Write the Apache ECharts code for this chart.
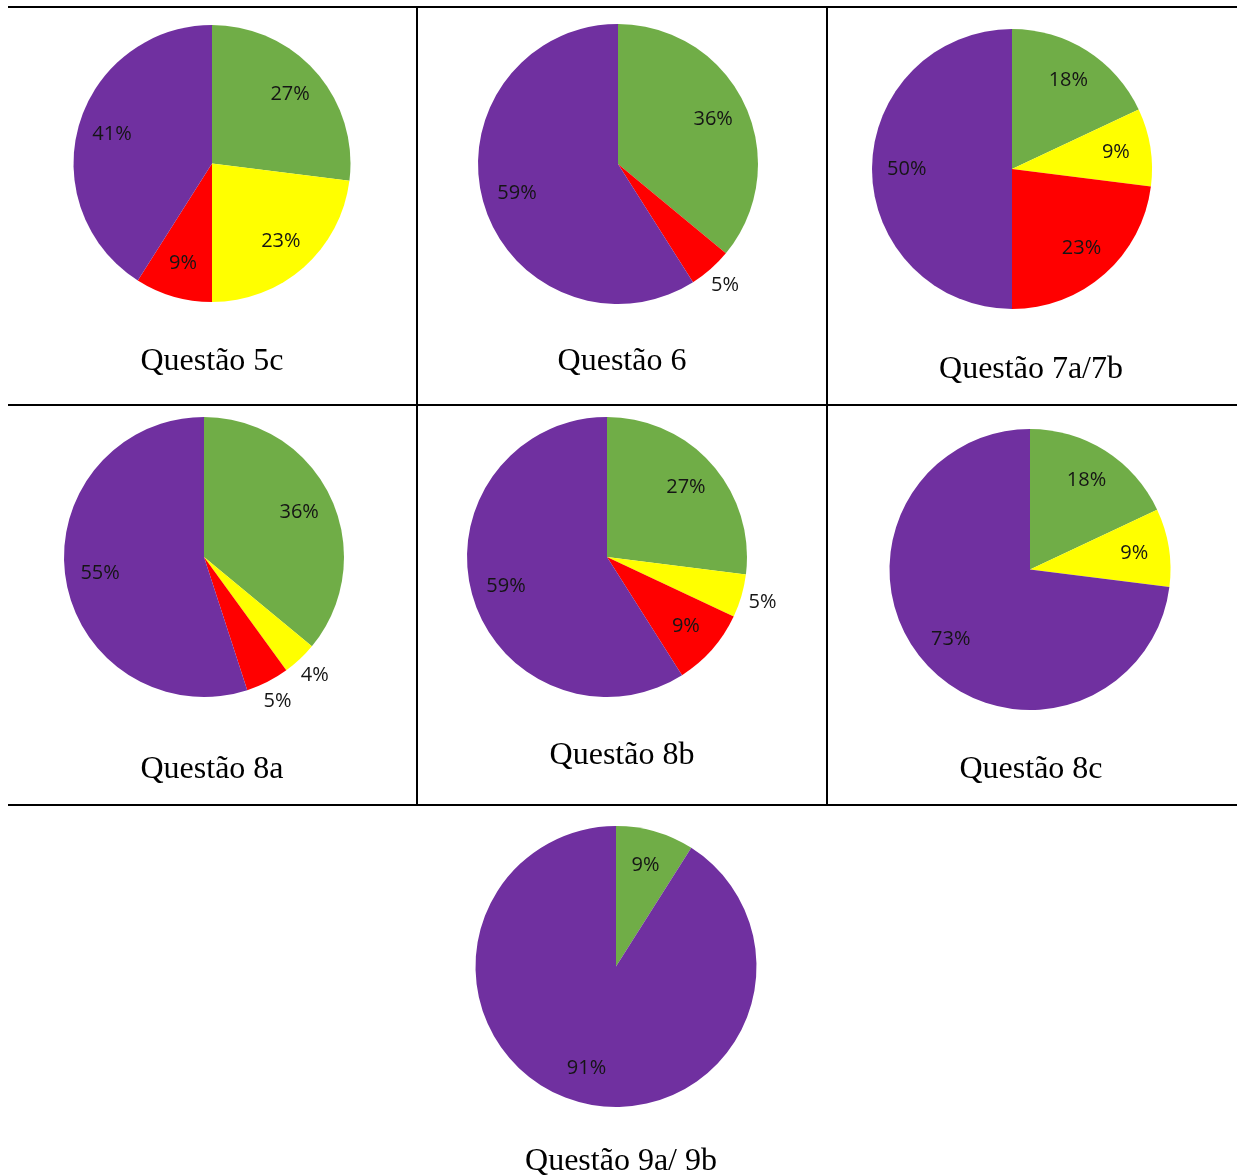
<!DOCTYPE html>
<html>
<head>
<meta charset="utf-8">
<script src="https://cdn.jsdelivr.net/npm/echarts@6/dist/echarts.min.js"></script>
<style>
  html, body { margin: 0; padding: 0; background: #ffffff; }
  #chart { width: 1237px; height: 1176px; }
</style>
</head>
<body>
<div id="chart"></div>
<script>
// Answer categories, in clockwise order from twelve o'clock
const categories = ['Verde', 'Amarelo', 'Vermelho', 'Roxo'];
const colors = ['#70AD47', '#FFFF00', '#FF0000', '#7030A0'];

// Percentages per question (same order as categories; 0 = no answers)
const q5c = [27, 23, 9, 41];
const q6  = [36, 0, 5, 59];
const q7  = [18, 9, 23, 50];
const q8a = [36, 4, 5, 55];
const q8b = [27, 5, 9, 59];
const q8c = [18, 9, 0, 73];
const q9  = [9, 0, 0, 91];

const titles = ['Questão 5c', 'Questão 6', 'Questão 7a/7b', 'Questão 8a', 'Questão 8b', 'Questão 8c', 'Questão 9a/ 9b'];

// Categories whose percentage label sits outside the slice
const outside5c = [];
const outside6  = [2];
const outside7  = [];
const outside8a = [1, 2];
const outside8b = [1];
const outside8c = [];
const outside9  = [];

// Placement of each pie and its caption on the page
const layout = [
  { values: q5c, outside: outside5c, cx: 212,  cy: 163.5, r: 138.5, tx: 212,  ty: 362 },
  { values: q6,  outside: outside6,  cx: 618,  cy: 164,   r: 140,   tx: 622,  ty: 362 },
  { values: q7,  outside: outside7,  cx: 1012, cy: 169,   r: 140,   tx: 1031, ty: 370 },
  { values: q8a, outside: outside8a, cx: 204,  cy: 557,   r: 140,   tx: 212,  ty: 770 },
  { values: q8b, outside: outside8b, cx: 607,  cy: 557,   r: 140,   tx: 622,  ty: 756 },
  { values: q8c, outside: outside8c, cx: 1030, cy: 569.5, r: 140.5, tx: 1031, ty: 770 },
  { values: q9,  outside: outside9,  cx: 616,  cy: 966.5, r: 140.5, tx: 621,  ty: 1162 }
];

const labelStyle = {
  color: '#151515',
  fontFamily: 'Open Sans',
  fontSize: 20,
  formatter: '{c}%'
};

function sliceData(values, labelFilter) {
  const out = [];
  values.forEach((v, i) => {
    if (v > 0) {
      out.push({
        name: categories[i],
        value: v,
        itemStyle: { color: colors[i] },
        label: { show: labelFilter ? labelFilter(i) : false }
      });
    }
  });
  return out;
}

function labelRing(c, radius, filter) {
  return {
    type: 'pie',
    center: [c.cx, c.cy],
    radius: radius,
    startAngle: 90,
    clockwise: true,
    silent: true,
    animation: false,
    avoidLabelOverlap: false,
    label: Object.assign({ position: 'inside' }, labelStyle),
    labelLine: { show: false },
    data: sliceData(c.values, filter)
      .map(d => Object.assign(d, { itemStyle: { color: 'rgba(0,0,0,0)' } }))
  };
}

const series = [];
layout.forEach((c) => {
  // visible slices
  series.push({
    type: 'pie',
    center: [c.cx, c.cy],
    radius: c.r,
    startAngle: 90,
    clockwise: true,
    silent: true,
    animation: false,
    avoidLabelOverlap: false,
    label: { show: false },
    labelLine: { show: false },
    itemStyle: { borderWidth: 0 },
    data: sliceData(c.values, null)
  });
  // labels inside the slices (about three quarters of the radius out)
  series.push(labelRing(c, c.r * 1.46, (i) => c.outside.indexOf(i) < 0));
  // labels just outside the rim for thin slices
  if (c.outside.length) {
    series.push(labelRing(c, c.r * 2.27, (i) => c.outside.indexOf(i) >= 0));
  }
});

// Table rules and captions
const graphics = [];
const rule = { stroke: '#000', lineWidth: 2 };
[7, 405, 805].forEach((y) => {
  graphics.push({ type: 'line', shape: { x1: 8, y1: y, x2: 1237, y2: y }, style: rule, silent: true });
});
[417, 827].forEach((x) => {
  graphics.push({ type: 'line', shape: { x1: x, y1: 7, x2: x, y2: 805 }, style: rule, silent: true });
});
layout.forEach((c, i) => {
  graphics.push({
    type: 'text',
    x: c.tx,
    y: c.ty,
    silent: true,
    style: {
      text: titles[i],
      fill: '#000',
      font: '32px "Liberation Serif", "Times New Roman", serif',
      align: 'center',
      verticalAlign: 'middle'
    }
  });
});

const chart = echarts.init(document.getElementById('chart'), null, { renderer: 'canvas' });
chart.setOption({
  animation: false,
  backgroundColor: '#ffffff',
  series: series,
  graphic: graphics
});
</script>
</body>
</html>
